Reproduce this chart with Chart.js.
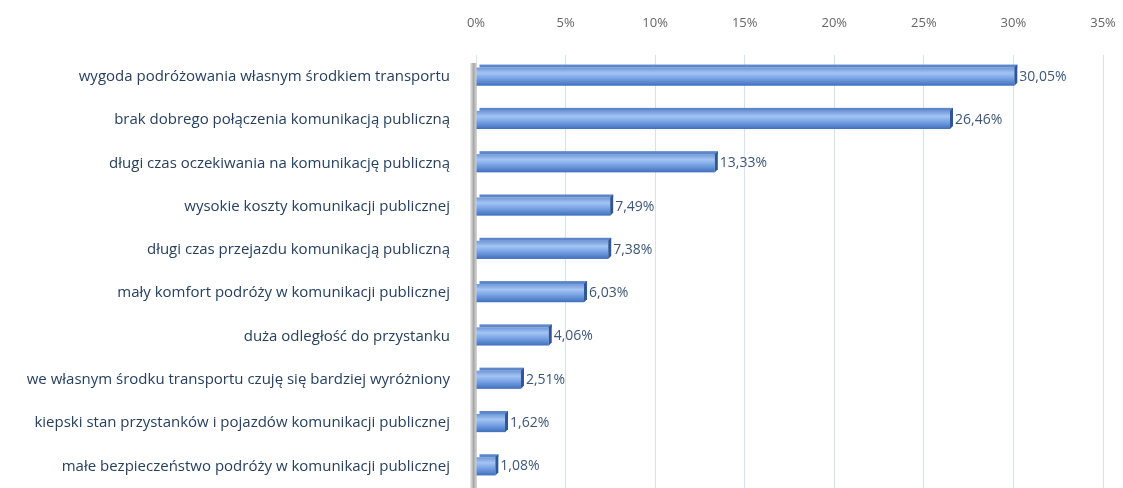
<!DOCTYPE html>
<html>
<head>
<meta charset="utf-8">
<script src="https://cdn.jsdelivr.net/npm/chart.js@4"></script>
<style>
  html, body { margin: 0; padding: 0; background: #fff; overflow: hidden; }
  canvas { display: block; }
</style>
</head>
<body>
<canvas id="chart" width="1123" height="488"></canvas>
<script>
// ============= DATA =============
const categories = [
  'wygoda podróżowania własnym środkiem transportu',
  'brak dobrego połączenia komunikacją publiczną',
  'długi czas oczekiwania na komunikację publiczną',
  'wysokie koszty komunikacji publicznej',
  'długi czas przejazdu komunikacją publiczną',
  'mały komfort podróży w komunikacji publicznej',
  'duża odległość do przystanku',
  'we własnym środku transportu czuję się bardziej wyróżniony',
  'kiepski stan przystanków i pojazdów komunikacji publicznej',
  'małe bezpieczeństwo podróży w komunikacji publicznej'
];
const values = [30.05, 26.46, 13.33, 7.49, 7.38, 6.03, 4.06, 2.51, 1.62, 1.08];
const tickMax = 35;
const tickStep = 5;

// ============= PLUGINS =============
// grey 3D wall on the left edge of the plot
const wallPlugin = {
  id: 'wall',
  beforeDatasetsDraw: function(chart) {
    const ctx = chart.ctx;
    const area = chart.chartArea;
    const x = area.left - 6;
    const g = ctx.createLinearGradient(x, 0, x + 7, 0);
    g.addColorStop(0, '#eeeeee');
    g.addColorStop(0.5, '#a8a8a8');
    g.addColorStop(1, '#d8d8d8');
    ctx.save();
    ctx.fillStyle = g;
    ctx.fillRect(x, area.top + 8, 7, area.bottom - area.top - 8);
    ctx.restore();
  }
};

// gradient bars with a dark end cap + value labels
const barPlugin = {
  id: 'bar3d',
  afterDatasetsDraw: function(chart) {
    const ctx = chart.ctx;
    const meta = chart.getDatasetMeta(0);
    ctx.save();
    meta.data.forEach(function(bar, i) {
      const p = bar.getProps(['x', 'y', 'base', 'height'], true);
      const top = p.y - p.height / 2;
      const w = p.x - p.base;
      const g = ctx.createLinearGradient(0, top, 0, top + p.height);
      g.addColorStop(0, '#6e98da');
      g.addColorStop(0.3, '#a4c4f3');
      g.addColorStop(0.55, '#7fa8e8');
      g.addColorStop(1, '#3f6fbd');
      ctx.fillStyle = g;
      ctx.fillRect(p.base, top, w, p.height);
      // top face
      ctx.fillStyle = '#5d87c9';
      ctx.fillRect(p.base + 3, top - 3, w, 3);
      // end cap
      ctx.fillStyle = '#2f5696';
      ctx.beginPath();
      ctx.moveTo(p.x, top);
      ctx.lineTo(p.x + 3, top - 3);
      ctx.lineTo(p.x + 3, top + p.height - 3);
      ctx.lineTo(p.x, top + p.height);
      ctx.closePath();
      ctx.fill();

      ctx.fillStyle = '#3d5679';
      ctx.font = '14px "Open Sans", sans-serif';
      ctx.textAlign = 'left';
      ctx.textBaseline = 'middle';
      ctx.fillText(values[i].toFixed(2).replace('.', ',') + '%', p.x + 5, p.y);
    });
    ctx.restore();
  }
};

// ============= CHART =============
new Chart(document.getElementById('chart'), {
  type: 'bar',
  data: {
    labels: categories,
    datasets: [{
      data: values,
      backgroundColor: 'rgba(0,0,0,0)',
      borderWidth: 0,
      barPercentage: 0.42,
      categoryPercentage: 1
    }]
  },
  plugins: [wallPlugin, barPlugin],
  options: {
    indexAxis: 'y',
    responsive: false,
    animation: false,
    layout: { padding: { left: 0, right: 20, top: 0, bottom: 0 } },
    plugins: {
      legend: { display: false },
      tooltip: { enabled: false }
    },
    scales: {
      x: {
        position: 'top',
        min: 0,
        max: tickMax,
        afterFit: function(scale) {
          scale.height = 55;
          scale.paddingLeft = 0;
          scale.paddingRight = 0;
        },
        grid: { color: '#d9e1ec', drawTicks: false },
        border: { display: false },
        ticks: {
          stepSize: tickStep,
          padding: 24,
          color: '#666',
          font: { family: 'Open Sans', size: 13 },
          callback: function(v) { return v + '%'; }
        }
      },
      y: {
        afterFit: function(scale) {
          scale.width = 476;
          // tick padding otherwise leaves a gap under the last bar
          scale.paddingTop = 0;
          scale.paddingBottom = 0;
        },
        grid: { display: false, drawTicks: false },
        border: { display: false },
        ticks: {
          padding: 26,
          color: '#27405f',
          font: { family: 'Open Sans', size: 15 }
        }
      }
    }
  }
});
</script>
</body>
</html>
